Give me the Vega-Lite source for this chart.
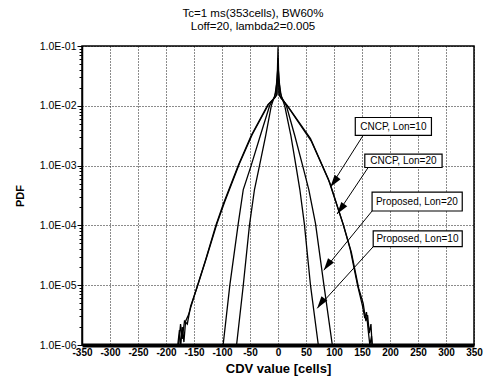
{
  "$schema": "https://vega.github.io/schema/vega-lite/v6.json",
  "autosize": "none",
  "width": 392,
  "height": 299,
  "padding": {"left": 82, "top": 46, "right": 12, "bottom": 41},
  "background": "white",
  "config": {
    "view": {"stroke": "black", "strokeWidth": 1.5},
    "font": "Liberation Sans",
    "axis": {"grid": true, "gridColor": "black", "gridDash": [1, 2], "gridWidth": 1, "domainColor": "black", "tickColor": "black", "labelColor": "black", "titleColor": "black", "labelFont": "Liberation Sans", "titleFont": "Liberation Sans"}
  },
  "title": {
    "text": ["Tc=1 ms(353cells), BW60%", "Loff=20, lambda2=0.005"],
    "fontSize": 11.5,
    "fontWeight": "normal",
    "font": "Liberation Sans",
    "color": "black",
    "lineHeight": 13,
    "offset": 9,
    "anchor": "middle",
    "dx": -25
  },
  "datasets": {
    "curves": [
      {"s": "CNCP, Lon=10", "x": -186, "pdf": 5.0e-7},
      {"s": "CNCP, Lon=10", "x": -179, "pdf": 1.0e-6},
      {"s": "CNCP, Lon=10", "x": -176, "pdf": 1.78e-6},
      {"s": "CNCP, Lon=10", "x": -174, "pdf": 8.9e-7},
      {"s": "CNCP, Lon=10", "x": -171, "pdf": 2.0e-6},
      {"s": "CNCP, Lon=10", "x": -168, "pdf": 1.12e-6},
      {"s": "CNCP, Lon=10", "x": -165, "pdf": 2.51e-6},
      {"s": "CNCP, Lon=10", "x": -160, "pdf": 3.16e-6},
      {"s": "CNCP, Lon=10", "x": -147, "pdf": 7.94e-6},
      {"s": "CNCP, Lon=10", "x": -130, "pdf": 2.51e-5},
      {"s": "CNCP, Lon=10", "x": -111, "pdf": 1.0e-4},
      {"s": "CNCP, Lon=10", "x": -98, "pdf": 2.24e-4},
      {"s": "CNCP, Lon=10", "x": -71, "pdf": 1.0e-3},
      {"s": "CNCP, Lon=10", "x": -48, "pdf": 3.16e-3},
      {"s": "CNCP, Lon=10", "x": -18, "pdf": 1.05e-2},
      {"s": "CNCP, Lon=10", "x": -5, "pdf": 1.38e-2},
      {"s": "CNCP, Lon=10", "x": -2, "pdf": 1.58e-2},
      {"s": "CNCP, Lon=10", "x": 0, "pdf": 9.55e-2},
      {"s": "CNCP, Lon=10", "x": 2, "pdf": 1.58e-2},
      {"s": "CNCP, Lon=10", "x": 5, "pdf": 1.35e-2},
      {"s": "CNCP, Lon=10", "x": 17, "pdf": 1.0e-2},
      {"s": "CNCP, Lon=10", "x": 58, "pdf": 2.82e-3},
      {"s": "CNCP, Lon=10", "x": 90, "pdf": 5.9e-4},
      {"s": "CNCP, Lon=10", "x": 116, "pdf": 1.07e-4},
      {"s": "CNCP, Lon=10", "x": 129, "pdf": 3.98e-5},
      {"s": "CNCP, Lon=10", "x": 142, "pdf": 1.0e-5},
      {"s": "CNCP, Lon=10", "x": 151, "pdf": 4.47e-6},
      {"s": "CNCP, Lon=10", "x": 155, "pdf": 2.82e-6},
      {"s": "CNCP, Lon=10", "x": 158, "pdf": 3.55e-6},
      {"s": "CNCP, Lon=10", "x": 161, "pdf": 1.78e-6},
      {"s": "CNCP, Lon=10", "x": 164, "pdf": 1.0e-6},
      {"s": "CNCP, Lon=10", "x": 167, "pdf": 1.41e-6},
      {"s": "CNCP, Lon=10", "x": 171, "pdf": 5.0e-7},

      {"s": "CNCP, Lon=20", "x": -182, "pdf": 5.0e-7},
      {"s": "CNCP, Lon=20", "x": -177, "pdf": 1.12e-6},
      {"s": "CNCP, Lon=20", "x": -174, "pdf": 2.24e-6},
      {"s": "CNCP, Lon=20", "x": -171, "pdf": 1.26e-6},
      {"s": "CNCP, Lon=20", "x": -167, "pdf": 2.51e-6},
      {"s": "CNCP, Lon=20", "x": -162, "pdf": 2.24e-6},
      {"s": "CNCP, Lon=20", "x": -156, "pdf": 4.47e-6},
      {"s": "CNCP, Lon=20", "x": -145, "pdf": 8.9e-6},
      {"s": "CNCP, Lon=20", "x": -128, "pdf": 2.82e-5},
      {"s": "CNCP, Lon=20", "x": -109, "pdf": 1.07e-4},
      {"s": "CNCP, Lon=20", "x": -95, "pdf": 2.51e-4},
      {"s": "CNCP, Lon=20", "x": -69, "pdf": 1.07e-3},
      {"s": "CNCP, Lon=20", "x": -46, "pdf": 3.31e-3},
      {"s": "CNCP, Lon=20", "x": -17, "pdf": 1.05e-2},
      {"s": "CNCP, Lon=20", "x": -5, "pdf": 1.41e-2},
      {"s": "CNCP, Lon=20", "x": -2, "pdf": 1.51e-2},
      {"s": "CNCP, Lon=20", "x": 0, "pdf": 6.31e-2},
      {"s": "CNCP, Lon=20", "x": 2, "pdf": 1.51e-2},
      {"s": "CNCP, Lon=20", "x": 5, "pdf": 1.38e-2},
      {"s": "CNCP, Lon=20", "x": 18, "pdf": 9.55e-3},
      {"s": "CNCP, Lon=20", "x": 60, "pdf": 2.51e-3},
      {"s": "CNCP, Lon=20", "x": 93, "pdf": 5.01e-4},
      {"s": "CNCP, Lon=20", "x": 118, "pdf": 9.33e-5},
      {"s": "CNCP, Lon=20", "x": 131, "pdf": 3.55e-5},
      {"s": "CNCP, Lon=20", "x": 144, "pdf": 8.9e-6},
      {"s": "CNCP, Lon=20", "x": 152, "pdf": 5.01e-6},
      {"s": "CNCP, Lon=20", "x": 157, "pdf": 2.51e-6},
      {"s": "CNCP, Lon=20", "x": 160, "pdf": 3.16e-6},
      {"s": "CNCP, Lon=20", "x": 163, "pdf": 1.58e-6},
      {"s": "CNCP, Lon=20", "x": 166, "pdf": 2.24e-6},
      {"s": "CNCP, Lon=20", "x": 168, "pdf": 1.0e-6},
      {"s": "CNCP, Lon=20", "x": 172, "pdf": 5.0e-7},

      {"s": "Proposed, Lon=20", "x": -101, "pdf": 6.31e-7},
      {"s": "Proposed, Lon=20", "x": -98, "pdf": 1.0e-6},
      {"s": "Proposed, Lon=20", "x": -86, "pdf": 1.0e-5},
      {"s": "Proposed, Lon=20", "x": -71, "pdf": 1.07e-4},
      {"s": "Proposed, Lon=20", "x": -62, "pdf": 3.98e-4},
      {"s": "Proposed, Lon=20", "x": -48, "pdf": 1.0e-3},
      {"s": "Proposed, Lon=20", "x": -30, "pdf": 3.55e-3},
      {"s": "Proposed, Lon=20", "x": -15, "pdf": 1.0e-2},
      {"s": "Proposed, Lon=20", "x": -6, "pdf": 1.41e-2},
      {"s": "Proposed, Lon=20", "x": 0, "pdf": 3.16e-2},
      {"s": "Proposed, Lon=20", "x": 6, "pdf": 1.41e-2},
      {"s": "Proposed, Lon=20", "x": 15, "pdf": 1.0e-2},
      {"s": "Proposed, Lon=20", "x": 30, "pdf": 3.16e-3},
      {"s": "Proposed, Lon=20", "x": 44, "pdf": 1.0e-3},
      {"s": "Proposed, Lon=20", "x": 55, "pdf": 3.98e-4},
      {"s": "Proposed, Lon=20", "x": 67, "pdf": 1.07e-4},
      {"s": "Proposed, Lon=20", "x": 82, "pdf": 1.0e-5},
      {"s": "Proposed, Lon=20", "x": 97, "pdf": 1.0e-6},
      {"s": "Proposed, Lon=20", "x": 100, "pdf": 6.31e-7},

      {"s": "Proposed, Lon=10", "x": -77, "pdf": 6.31e-7},
      {"s": "Proposed, Lon=10", "x": -74, "pdf": 1.0e-6},
      {"s": "Proposed, Lon=10", "x": -62, "pdf": 1.0e-5},
      {"s": "Proposed, Lon=10", "x": -51, "pdf": 1.0e-4},
      {"s": "Proposed, Lon=10", "x": -42, "pdf": 3.98e-4},
      {"s": "Proposed, Lon=10", "x": -33, "pdf": 1.0e-3},
      {"s": "Proposed, Lon=10", "x": -22, "pdf": 3.16e-3},
      {"s": "Proposed, Lon=10", "x": -12, "pdf": 1.0e-2},
      {"s": "Proposed, Lon=10", "x": -4, "pdf": 1.66e-2},
      {"s": "Proposed, Lon=10", "x": 0, "pdf": 4.47e-2},
      {"s": "Proposed, Lon=10", "x": 4, "pdf": 1.66e-2},
      {"s": "Proposed, Lon=10", "x": 12, "pdf": 1.0e-2},
      {"s": "Proposed, Lon=10", "x": 23, "pdf": 3.16e-3},
      {"s": "Proposed, Lon=10", "x": 32, "pdf": 1.0e-3},
      {"s": "Proposed, Lon=10", "x": 39, "pdf": 3.98e-4},
      {"s": "Proposed, Lon=10", "x": 47, "pdf": 1.07e-4},
      {"s": "Proposed, Lon=10", "x": 58, "pdf": 1.0e-5},
      {"s": "Proposed, Lon=10", "x": 72, "pdf": 1.0e-6},
      {"s": "Proposed, Lon=10", "x": 75, "pdf": 6.31e-7}
    ],
    "notes": [
      {"label": "CNCP, Lon=10", "tx": 206, "ty": 4.47e-3, "x1": 138, "x2": 274, "y1": 6.37e-3, "y2": 3.2e-3, "ax": 152, "ay": 3.2e-3, "bx": 93.6, "by": 4.4e-4},
      {"label": "CNCP, Lon=20", "tx": 224, "ty": 1.2e-3, "x1": 155, "x2": 293, "y1": 1.55e-3, "y2": 9.3e-4, "ax": 161, "ay": 9.3e-4, "bx": 105.5, "by": 1.55e-4},
      {"label": "Proposed, Lon=20", "tx": 248, "ty": 2.5e-4, "x1": 168, "x2": 329, "y1": 3.6e-4, "y2": 1.74e-4, "ax": 168, "ay": 1.74e-4, "bx": 81.8, "by": 1.78e-5},
      {"label": "Proposed, Lon=10", "tx": 249, "ty": 6.0e-5, "x1": 170, "x2": 329, "y1": 8.1e-5, "y2": 4.4e-5, "ax": 170, "ay": 4.4e-5, "bx": 70, "by": 4.1e-6}
    ]
  },
  "layer": [
    {
      "data": {"name": "curves"},
      "mark": {"type": "line", "color": "black", "strokeWidth": 1.3, "clip": true},
      "encoding": {
        "x": {
          "field": "x", "type": "quantitative", "title": "CDV value [cells]",
          "scale": {"domain": [-350, 350], "nice": false, "zero": false},
          "axis": {"titleFontSize": 13, "titleFontWeight": "bold", "titlePadding": 5, "values": [-350, -300, -250, -200, -150, -100, -50, 0, 50, 100, 150, 200, 250, 300, 350], "labelExpr": "'' + datum.value", "labelFontSize": 10, "labelFontWeight": "bold", "labelPadding": 2, "labelFlush": false, "labelOverlap": false, "domainWidth": 4, "tickSize": 0, "grid": true, "gridDash": [1, 2], "gridOpacity": 0.9}
        },
        "y": {
          "field": "pdf", "type": "quantitative", "title": "PDF",
          "scale": {"type": "log", "domain": [1e-6, 0.1], "nice": false},
          "axis": {"titleFontSize": 11, "titleFontWeight": "bold", "titlePadding": 14, "values": [1e-6, 2e-6, 3e-6, 4e-6, 5e-6, 6e-6, 7e-6, 8e-6, 9e-6, 1e-5, 2e-5, 3e-5, 4e-5, 5e-5, 6e-5, 7e-5, 8e-5, 9e-5, 1e-4, 2e-4, 3e-4, 4e-4, 5e-4, 6e-4, 7e-4, 8e-4, 9e-4, 1e-3, 2e-3, 3e-3, 4e-3, 5e-3, 6e-3, 7e-3, 8e-3, 9e-3, 1e-2, 2e-2, 3e-2, 4e-2, 5e-2, 6e-2, 7e-2, 8e-2, 9e-2, 1e-1], "labelExpr": "abs(log(datum.value)/LN10 - round(log(datum.value)/LN10)) < 0.001 ? '1.0E-0' + round(-log(datum.value)/LN10) : ''", "labelFontSize": 10.5, "labelPadding": 1, "labelFlush": false, "labelOverlap": false, "domainWidth": 1.5, "tickSize": {"condition": {"test": "abs(log(datum.value)/LN10 - round(log(datum.value)/LN10)) < 0.001", "value": 5}, "value": 3}, "grid": true, "gridDash": [1, 2], "gridOpacity": {"condition": {"test": "abs(log(datum.value)/LN10 - round(log(datum.value)/LN10)) < 0.001", "value": 0.9}, "value": 0}}
        },
        "detail": {"field": "s", "type": "nominal"}
      }
    },
    {
      "data": {"name": "notes"},
      "mark": {"type": "rule", "color": "black", "strokeWidth": 1},
      "encoding": {
        "x": {"field": "ax", "type": "quantitative", "title": "CDV value [cells]", "scale": {"domain": [-350, 350], "nice": false, "zero": false},
          "axis": {"titleFontSize": 13, "titleFontWeight": "bold", "titlePadding": 5, "values": [-350, -300, -250, -200, -150, -100, -50, 0, 50, 100, 150, 200, 250, 300, 350], "labelExpr": "'' + datum.value", "labelFontSize": 10, "labelFontWeight": "bold", "labelPadding": 2, "labelFlush": false, "labelOverlap": false, "domainWidth": 4, "tickSize": 0, "grid": true, "gridDash": [1, 2], "gridOpacity": 0.9}},
        "y": {"field": "ay", "type": "quantitative", "title": "PDF", "scale": {"type": "log", "domain": [1e-6, 0.1], "nice": false},
          "axis": {"titleFontSize": 11, "titleFontWeight": "bold", "titlePadding": 14, "values": [1e-6, 2e-6, 3e-6, 4e-6, 5e-6, 6e-6, 7e-6, 8e-6, 9e-6, 1e-5, 2e-5, 3e-5, 4e-5, 5e-5, 6e-5, 7e-5, 8e-5, 9e-5, 1e-4, 2e-4, 3e-4, 4e-4, 5e-4, 6e-4, 7e-4, 8e-4, 9e-4, 1e-3, 2e-3, 3e-3, 4e-3, 5e-3, 6e-3, 7e-3, 8e-3, 9e-3, 1e-2, 2e-2, 3e-2, 4e-2, 5e-2, 6e-2, 7e-2, 8e-2, 9e-2, 1e-1], "labelExpr": "abs(log(datum.value)/LN10 - round(log(datum.value)/LN10)) < 0.001 ? '1.0E-0' + round(-log(datum.value)/LN10) : ''", "labelFontSize": 10.5, "labelPadding": 1, "labelFlush": false, "labelOverlap": false, "domainWidth": 1.5, "tickSize": {"condition": {"test": "abs(log(datum.value)/LN10 - round(log(datum.value)/LN10)) < 0.001", "value": 5}, "value": 3}, "grid": true, "gridDash": [1, 2], "gridOpacity": {"condition": {"test": "abs(log(datum.value)/LN10 - round(log(datum.value)/LN10)) < 0.001", "value": 0.9}, "value": 0}}},
        "x2": {"field": "bx"},
        "y2": {"field": "by"}
      }
    },
    {
      "data": {"name": "notes"},
      "mark": {"type": "point", "filled": true, "color": "black", "opacity": 1, "shape": "M0,0L0.6,2L-0.6,2Z", "size": 150, "angle": 216},
      "encoding": {
        "x": {"field": "bx", "type": "quantitative", "title": "CDV value [cells]", "scale": {"domain": [-350, 350], "nice": false, "zero": false},
          "axis": {"titleFontSize": 13, "titleFontWeight": "bold", "titlePadding": 5, "values": [-350, -300, -250, -200, -150, -100, -50, 0, 50, 100, 150, 200, 250, 300, 350], "labelExpr": "'' + datum.value", "labelFontSize": 10, "labelFontWeight": "bold", "labelPadding": 2, "labelFlush": false, "labelOverlap": false, "domainWidth": 4, "tickSize": 0, "grid": true, "gridDash": [1, 2], "gridOpacity": 0.9}},
        "y": {"field": "by", "type": "quantitative", "title": "PDF", "scale": {"type": "log", "domain": [1e-6, 0.1], "nice": false},
          "axis": {"titleFontSize": 11, "titleFontWeight": "bold", "titlePadding": 14, "values": [1e-6, 2e-6, 3e-6, 4e-6, 5e-6, 6e-6, 7e-6, 8e-6, 9e-6, 1e-5, 2e-5, 3e-5, 4e-5, 5e-5, 6e-5, 7e-5, 8e-5, 9e-5, 1e-4, 2e-4, 3e-4, 4e-4, 5e-4, 6e-4, 7e-4, 8e-4, 9e-4, 1e-3, 2e-3, 3e-3, 4e-3, 5e-3, 6e-3, 7e-3, 8e-3, 9e-3, 1e-2, 2e-2, 3e-2, 4e-2, 5e-2, 6e-2, 7e-2, 8e-2, 9e-2, 1e-1], "labelExpr": "abs(log(datum.value)/LN10 - round(log(datum.value)/LN10)) < 0.001 ? '1.0E-0' + round(-log(datum.value)/LN10) : ''", "labelFontSize": 10.5, "labelPadding": 1, "labelFlush": false, "labelOverlap": false, "domainWidth": 1.5, "tickSize": {"condition": {"test": "abs(log(datum.value)/LN10 - round(log(datum.value)/LN10)) < 0.001", "value": 5}, "value": 3}, "grid": true, "gridDash": [1, 2], "gridOpacity": {"condition": {"test": "abs(log(datum.value)/LN10 - round(log(datum.value)/LN10)) < 0.001", "value": 0.9}, "value": 0}}}
      }
    },
    {
      "data": {"name": "notes"},
      "mark": {"type": "rect", "fill": "white", "stroke": "black", "strokeWidth": 1.2},
      "encoding": {
        "x": {"field": "x1", "type": "quantitative", "title": "CDV value [cells]", "scale": {"domain": [-350, 350], "nice": false, "zero": false},
          "axis": {"titleFontSize": 13, "titleFontWeight": "bold", "titlePadding": 5, "values": [-350, -300, -250, -200, -150, -100, -50, 0, 50, 100, 150, 200, 250, 300, 350], "labelExpr": "'' + datum.value", "labelFontSize": 10, "labelFontWeight": "bold", "labelPadding": 2, "labelFlush": false, "labelOverlap": false, "domainWidth": 4, "tickSize": 0, "grid": true, "gridDash": [1, 2], "gridOpacity": 0.9}},
        "x2": {"field": "x2"},
        "y": {"field": "y1", "type": "quantitative", "title": "PDF", "scale": {"type": "log", "domain": [1e-6, 0.1], "nice": false},
          "axis": {"titleFontSize": 11, "titleFontWeight": "bold", "titlePadding": 14, "values": [1e-6, 2e-6, 3e-6, 4e-6, 5e-6, 6e-6, 7e-6, 8e-6, 9e-6, 1e-5, 2e-5, 3e-5, 4e-5, 5e-5, 6e-5, 7e-5, 8e-5, 9e-5, 1e-4, 2e-4, 3e-4, 4e-4, 5e-4, 6e-4, 7e-4, 8e-4, 9e-4, 1e-3, 2e-3, 3e-3, 4e-3, 5e-3, 6e-3, 7e-3, 8e-3, 9e-3, 1e-2, 2e-2, 3e-2, 4e-2, 5e-2, 6e-2, 7e-2, 8e-2, 9e-2, 1e-1], "labelExpr": "abs(log(datum.value)/LN10 - round(log(datum.value)/LN10)) < 0.001 ? '1.0E-0' + round(-log(datum.value)/LN10) : ''", "labelFontSize": 10.5, "labelPadding": 1, "labelFlush": false, "labelOverlap": false, "domainWidth": 1.5, "tickSize": {"condition": {"test": "abs(log(datum.value)/LN10 - round(log(datum.value)/LN10)) < 0.001", "value": 5}, "value": 3}, "grid": true, "gridDash": [1, 2], "gridOpacity": {"condition": {"test": "abs(log(datum.value)/LN10 - round(log(datum.value)/LN10)) < 0.001", "value": 0.9}, "value": 0}}},
        "y2": {"field": "y2"}
      }
    },
    {
      "data": {"name": "notes"},
      "mark": {"type": "text", "font": "Liberation Sans", "fontSize": 10, "color": "black", "align": "center", "baseline": "middle"},
      "encoding": {
        "x": {"field": "tx", "type": "quantitative", "title": "CDV value [cells]", "scale": {"domain": [-350, 350], "nice": false, "zero": false},
          "axis": {"titleFontSize": 13, "titleFontWeight": "bold", "titlePadding": 5, "values": [-350, -300, -250, -200, -150, -100, -50, 0, 50, 100, 150, 200, 250, 300, 350], "labelExpr": "'' + datum.value", "labelFontSize": 10, "labelFontWeight": "bold", "labelPadding": 2, "labelFlush": false, "labelOverlap": false, "domainWidth": 4, "tickSize": 0, "grid": true, "gridDash": [1, 2], "gridOpacity": 0.9}},
        "y": {"field": "ty", "type": "quantitative", "title": "PDF", "scale": {"type": "log", "domain": [1e-6, 0.1], "nice": false},
          "axis": {"titleFontSize": 11, "titleFontWeight": "bold", "titlePadding": 14, "values": [1e-6, 2e-6, 3e-6, 4e-6, 5e-6, 6e-6, 7e-6, 8e-6, 9e-6, 1e-5, 2e-5, 3e-5, 4e-5, 5e-5, 6e-5, 7e-5, 8e-5, 9e-5, 1e-4, 2e-4, 3e-4, 4e-4, 5e-4, 6e-4, 7e-4, 8e-4, 9e-4, 1e-3, 2e-3, 3e-3, 4e-3, 5e-3, 6e-3, 7e-3, 8e-3, 9e-3, 1e-2, 2e-2, 3e-2, 4e-2, 5e-2, 6e-2, 7e-2, 8e-2, 9e-2, 1e-1], "labelExpr": "abs(log(datum.value)/LN10 - round(log(datum.value)/LN10)) < 0.001 ? '1.0E-0' + round(-log(datum.value)/LN10) : ''", "labelFontSize": 10.5, "labelPadding": 1, "labelFlush": false, "labelOverlap": false, "domainWidth": 1.5, "tickSize": {"condition": {"test": "abs(log(datum.value)/LN10 - round(log(datum.value)/LN10)) < 0.001", "value": 5}, "value": 3}, "grid": true, "gridDash": [1, 2], "gridOpacity": {"condition": {"test": "abs(log(datum.value)/LN10 - round(log(datum.value)/LN10)) < 0.001", "value": 0.9}, "value": 0}}},
        "text": {"field": "label", "type": "nominal"}
      }
    }
  ]
}
